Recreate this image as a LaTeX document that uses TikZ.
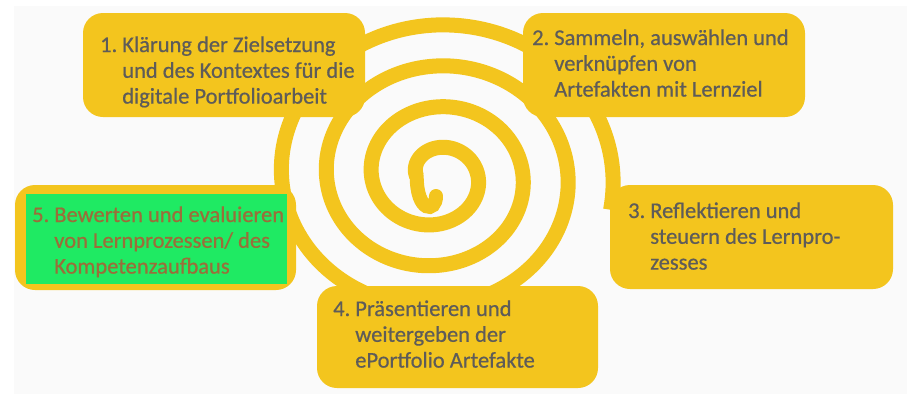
\documentclass[tikz,border=0pt]{standalone}
\usepackage{fontspec}
\setmainfont{Carlito}[FakeBold=0.6]
\usepackage{array}
\definecolor{yel}{HTML}{F3C51E}
\definecolor{txt}{HTML}{5E5C59}
\definecolor{hl}{HTML}{1FEA63}
\definecolor{hltxt}{HTML}{9A6E3A}
\definecolor{bg}{HTML}{FAFAFA}
\tikzset{
  box/.style={fill=yel, rounded corners=20pt, inner sep=0pt},
  label/.style={anchor=base west, inner sep=0pt, text=txt, font=\fontsize{22.5}{25.8}\selectfont},
  spiral/.style={draw=yel, line width=15pt},
}
\newcommand{\steptext}[4]{\begin{tabular}[t]{@{}l@{\hspace{5pt}}l@{}}#1 & #2\\ & #3\\ & #4\end{tabular}}
\begin{document}
\begin{tikzpicture}[x=1pt, y=-1pt]
  \useasboundingbox (0,0) rectangle (911,402);
  \fill[white] (0,0) rectangle (911,402);
  \fill[bg] (14,6) rectangle (907,394);
  % spiral: inner hook, then the main turns
  \draw[spiral, line cap=round, line width=14pt]
    (436,196) .. controls (436,213) and (416.7,213) .. (416.7,176);
  \draw[spiral]
    plot[domain=181:-1092, samples=700, variable=\a]
      ({436 + 1.0976*(28 + 0.1138889*(90-\a))*cos(\a)}, {176 - (28 + 0.1138889*(90-\a))*sin(\a)});
  % boxes
  \node[box, minimum width=282pt, minimum height=104pt] (b1) at (224,65) {};
  \node[box, minimum width=282pt, minimum height=104pt] (b2) at (664,65) {};
  \node[box, minimum width=283pt, minimum height=104pt] (b3) at (751.5,237) {};
  \node[box, minimum width=281pt, minimum height=102pt] (b4) at (457.5,337) {};
  \node[box, minimum width=281pt, minimum height=105pt] (b5) at (155.5,237.5) {};
  \fill[hl] (26,194) rectangle (287,284);
  % texts
  \node[label] (t1) at (100,52) {\steptext{1.}{Klärung der Zielsetzung}{und des Kontextes für die}{digitale Portfolioarbeit}};
  \node[label] (t2) at (532,45) {\steptext{2.}{Sammeln, auswählen und}{verknüpfen von}{Artefakten mit Lernziel}};
  \node[label] (t3) at (628,218) {\steptext{3.}{Reflektieren und}{steuern des Lernpro-}{zesses}};
  \node[label] (t4) at (333,316) {\steptext{4.}{Präsentieren und}{weitergeben der}{ePortfolio Artefakte}};
  \node[label, text=hltxt] (t5) at (32,222) {\steptext{5.}{Bewerten und evaluieren}{von Lernprozessen/ des}{Kompetenzaufbaus}};
\end{tikzpicture}
\end{document}
